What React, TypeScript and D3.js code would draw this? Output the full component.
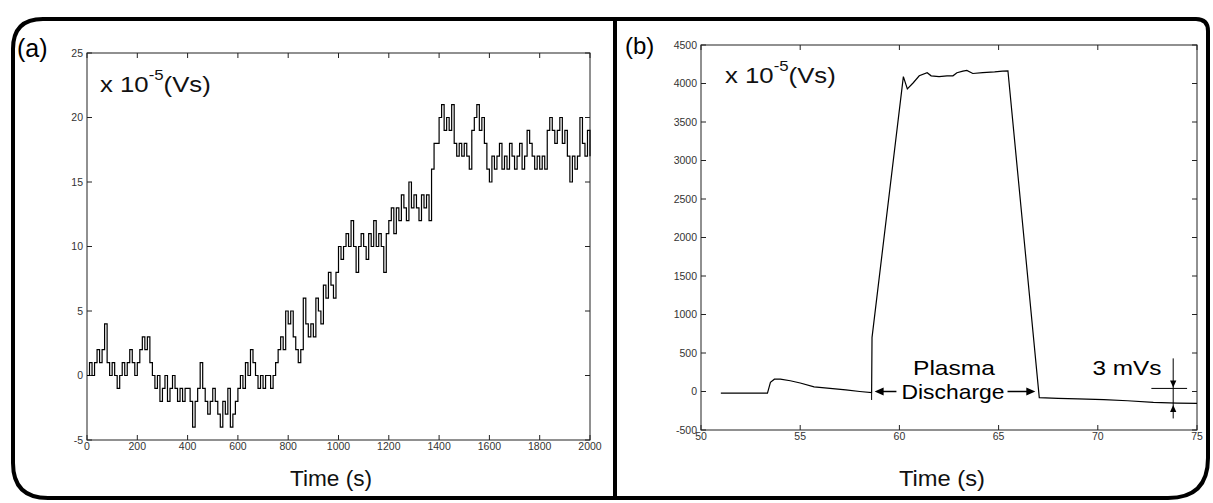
import React from 'react';
import * as d3 from 'd3';

// ---------- Panel (a) data ----------
const aTickX = [0, 200, 400, 600, 800, 1000, 1200, 1400, 1600, 1800, 2000];
const aTickY = [-5, 0, 5, 10, 15, 20, 25];
const aSampleStep = 10; // seconds between samples
const aSignal = [
  0, 1, 0, 1, 2, 1, 2, 4, 1, 0, 1, 0, -1, 0, 1, 0, 1, 2, 1, 0,
  1, 2, 3, 2, 3, 1, 0, -1, 0, -2, -1, 0, -2, -1, 0, -1, -2, -1, -2, -1,
  -1, -2, -4, -2, -1, 1, -1, -2, -3, -2, -1, -2, -3, -4, -2, -3, -1, -4, -3, -2,
  -1, 0, -1, 1, 0, 2, 1, 0, -1, 0, -1, 0, 0, -1, 0, 1, 2, 3, 2, 5,
  4, 5, 3, 2, 1, 2, 6, 4, 3, 4, 3, 6, 5, 4, 7, 6, 8, 7, 6, 8,
  10, 9, 10, 11, 10, 12, 10, 8, 10, 11, 10, 9, 11, 10, 12, 10, 11, 10, 8, 11,
  12, 13, 11, 13, 12, 14, 13, 12, 15, 13, 14, 13, 12, 14, 13, 14, 12, 16, 18, 18,
  20, 21, 19, 20, 19, 21, 18, 17, 18, 17, 18, 17, 16, 19, 20, 21, 19, 20, 18, 16,
  15, 17, 16, 17, 18, 16, 17, 16, 18, 17, 16, 17, 18, 16, 17, 19, 18, 17, 16, 17,
  16, 17, 16, 19, 20, 19, 18, 19, 20, 18, 19, 17, 15, 17, 16, 17, 20, 18, 17, 19,
  17,
];

// ---------- Panel (b) data ----------
const bTickX = [50, 55, 60, 65, 70, 75];
const bTickY = [-500, 0, 500, 1000, 1500, 2000, 2500, 3000, 3500, 4000, 4500];
const bTime = [
  51.0, 53.35, 53.5, 53.7, 54.0, 54.5, 55.0, 55.7, 56.5, 57.3, 58.0, 58.6, 58.62,
  60.2, 60.4, 60.7, 61.0, 61.4, 61.6, 62.0, 62.4, 62.7, 62.9, 63.2, 63.4, 63.7,
  64.2, 64.8, 65.2, 65.47, 67.05, 68.0, 69.0, 70.3, 71.5, 72.8, 74.0, 75.0,
];
const bSignal = [
  -20, -20, 120, 160, 160, 140, 110, 60, 40, 20, 0, -15, 700,
  4090, 3930, 4010, 4100, 4140, 4100, 4090, 4100, 4100, 4140, 4160, 4170, 4130,
  4140, 4150, 4160, 4165, -80, -90, -95, -105, -120, -140, -150, -155,
];

const FONT = "'Liberation Sans', Arial, Helvetica, sans-serif";

function Box({ x, y, xTicks, yTicks, xLabelDy }: any) {
  const [x0, x1] = x.range();
  const [y0, y1] = y.range(); // y0 bottom, y1 top
  const tl = 5;
  return (
    <g>
      <rect x={x0} y={y1} width={x1 - x0} height={y0 - y1} fill="none" stroke="#222" strokeWidth={1} />
      {xTicks.map((t: number) => (
        <g key={'x' + t}>
          <line x1={x(t)} x2={x(t)} y1={y0} y2={y0 - tl} stroke="#222" />
          <line x1={x(t)} x2={x(t)} y1={y1} y2={y1 + tl} stroke="#222" />
          <text x={x(t)} y={y0 + xLabelDy} textAnchor="middle" fontSize={10.5} fill="#333" fontFamily={FONT}>
            {t}
          </text>
        </g>
      ))}
      {yTicks.map((t: number) => (
        <g key={'y' + t}>
          <line x1={x0} x2={x0 + tl} y1={y(t)} y2={y(t)} stroke="#222" />
          <line x1={x1} x2={x1 - tl} y1={y(t)} y2={y(t)} stroke="#222" />
          <text x={x0 - 4} y={y(t)} dy="0.35em" textAnchor="end" fontSize={10.5} fill="#333" fontFamily={FONT}>
            {t}
          </text>
        </g>
      ))}
    </g>
  );
}

function UnitLabel({ tx, ty }: { tx: number; ty: number }) {
  return (
    <g transform={`translate(${tx},${ty}) scale(1.12,1)`}>
      <text x={0} y={0} fontSize={23} fill="#111" fontFamily={FONT}>
        x 10
        <tspan dy={-12} fontSize={15}>-5</tspan>
        <tspan dy={12} fontSize={23}>(Vs)</tspan>
      </text>
    </g>
  );
}

function framePath(l: number, t: number, r: number, b: number, rTL: number, rTR: number, rBR: number, rBL: number) {
  return [
    `M${l + rTL},${t}`,
    `L${r - rTR},${t}`,
    `Q${r},${t} ${r},${t + rTR}`,
    `L${r},${b - rBR}`,
    `Q${r},${b} ${r - rBR},${b}`,
    `L${l + rBL},${b}`,
    `Q${l},${b} ${l},${b - rBL}`,
    `L${l},${t + rTL}`,
    `Q${l},${t} ${l + rTL},${t}`,
    'Z',
  ].join(' ');
}

export default function App() {
  const W = 1213;
  const H = 503;

  const xa = d3.scaleLinear().domain([0, 2000]).range([87, 590]);
  const ya = d3.scaleLinear().domain([-5, 25]).range([440, 53]);
  const xb = d3.scaleLinear().domain([50, 75]).range([701, 1197]);
  const yb = d3.scaleLinear().domain([-500, 4500]).range([430, 45]);

  const lineA = d3
    .line<number>()
    .x((_d, i) => xa(i * aSampleStep))
    .y((d) => ya(d))
    .curve(d3.curveStepAfter);
  const lineB = d3
    .line<number>()
    .x((_d, i) => xb(bTime[i]))
    .y((d) => yb(d));

  // annotation geometry in data units
  const arrowY = yb(0);
  const leftTip = xb(58.75);
  const leftTail = xb(59.85);
  const rightTail = xb(65.45);
  const rightTip = xb(66.85);
  const mX = xb(73.8);
  const mTopLine = yb(40);
  const mBase = yb(-150);

  const head = (x: number, y: number, dir: 'l' | 'r' | 'u' | 'd', s = 7) => {
    if (dir === 'l') return `M${x},${y} L${x + s},${y - s * 0.45} L${x + s},${y + s * 0.45} Z`;
    if (dir === 'r') return `M${x},${y} L${x - s},${y - s * 0.45} L${x - s},${y + s * 0.45} Z`;
    if (dir === 'd') return `M${x},${y} L${x - s * 0.45},${y - s} L${x + s * 0.45},${y - s} Z`;
    return `M${x},${y} L${x - s * 0.45},${y + s} L${x + s * 0.45},${y + s} Z`;
  };

  return (
    <svg
      width={W}
      height={H}
      style={{ position: 'absolute', left: 0, top: 0, display: 'block', background: '#fff' }}
    >
      <rect x={0} y={0} width={W} height={H} fill="#fff" />
      {/* outer frame */}
      <path d={framePath(13, 19, 1208, 498, 30, 12, 40, 35)} fill="none" stroke="#000" strokeWidth={4} />
      <line x1={615} x2={615} y1={19} y2={498} stroke="#000" strokeWidth={4} />

      {/* panel labels */}
      <text x={17} y={57} fontSize={25} fill="#000" fontFamily={FONT}>(a)</text>
      <text x={625} y={54} fontSize={24} fill="#000" fontFamily={FONT}>(b)</text>

      {/* panel (a) */}
      <Box x={xa} y={ya} xTicks={aTickX} yTicks={aTickY} xLabelDy={10} />
      <path d={lineA(aSignal) || ''} fill="none" stroke="#000" strokeWidth={1.2} />
      <UnitLabel tx={100} ty={92} />
      <text x={331} y={486} textAnchor="middle" fontSize={22} textLength={82} lengthAdjust="spacingAndGlyphs" fill="#111" fontFamily={FONT}>
        Time (s)
      </text>

      {/* panel (b) */}
      <Box x={xb} y={yb} xTicks={bTickX} yTicks={bTickY} xLabelDy={10} />
      <path d={lineB(bSignal) || ''} fill="none" stroke="#000" strokeWidth={1.2} />
      <UnitLabel tx={725} ty={83} />
      <text x={942} y={486} textAnchor="middle" fontSize={22} textLength={86} lengthAdjust="spacingAndGlyphs" fill="#111" fontFamily={FONT}>
        Time (s)
      </text>

      {/* Plasma discharge annotation */}
      <line x1={xb(58.6)} x2={xb(58.6)} y1={yb(-20)} y2={yb(-110)} stroke="#000" strokeWidth={1} />
      <text x={954} y={375} textAnchor="middle" fontSize={21} textLength={82} lengthAdjust="spacingAndGlyphs" fill="#000" fontFamily={FONT}>
        Plasma
      </text>
      <text x={953} y={399} textAnchor="middle" fontSize={21} textLength={103} lengthAdjust="spacingAndGlyphs" fill="#000" fontFamily={FONT}>
        Discharge
      </text>
      <line x1={leftTail} x2={leftTip + 4} y1={arrowY} y2={arrowY} stroke="#000" strokeWidth={1.5} />
      <path d={head(leftTip, arrowY, 'l', 9)} fill="#000" />
      <line x1={rightTail} x2={rightTip - 4} y1={arrowY} y2={arrowY} stroke="#000" strokeWidth={1.5} />
      <path d={head(rightTip, arrowY, 'r', 9)} fill="#000" />

      {/* 3 mVs marker */}
      <text x={1127} y={375} textAnchor="middle" fontSize={20} textLength={69} lengthAdjust="spacingAndGlyphs" fill="#000" fontFamily={FONT}>
        3 mVs
      </text>
      <line x1={xb(72.7)} x2={xb(74.5)} y1={mTopLine} y2={mTopLine} stroke="#000" strokeWidth={1} />
      <line x1={mX} x2={mX} y1={yb(430)} y2={yb(-350)} stroke="#000" strokeWidth={1} />
      <path d={head(mX, mTopLine - 1, 'd', 7)} fill="#000" />
      <path d={head(mX, mBase + 2, 'u', 7)} fill="#000" />
    </svg>
  );
}
